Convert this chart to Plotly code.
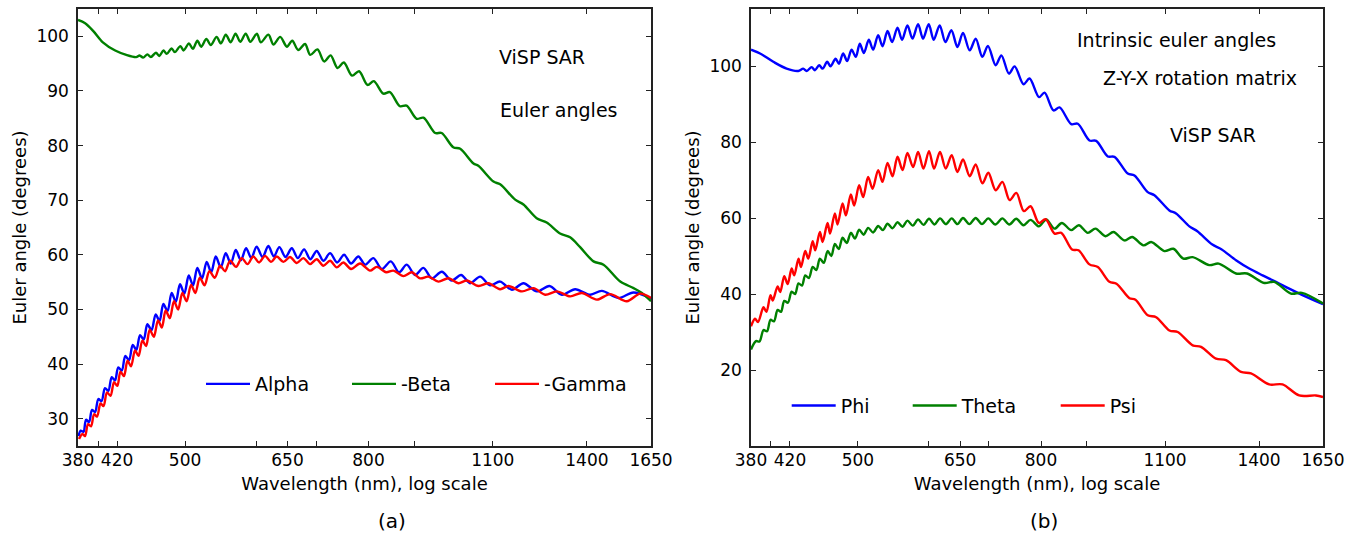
import math
import plotly.graph_objects as go

# ---------------- data ----------------
ticks_nm = [380, 420, 500, 650, 800, 1100, 1400, 1650]
minor_nm = [400, 600, 700, 900]
left_yticks = [30, 40, 50, 60, 70, 80, 90, 100]
right_yticks = [20, 40, 60, 80, 100]

alpha_wl = [380.5, 382.6, 385.4, 387.9, 390.9, 393.9, 397.0, 400.3, 403.6, 407.2, 410.7, 414.3, 417.8, 421.3, 425.1,
            429.0, 433.1, 437.2, 441.3, 445.5, 449.7, 453.9, 458.8, 463.7, 468.3, 472.9, 478.0, 483.1, 488.3, 493.5,
            499.0, 504.7, 510.3, 515.9, 522.2, 528.5, 534.6, 540.9, 547.9, 554.9, 562.1, 569.3, 576.8, 584.6, 592.5,
            600.6, 609.8, 618.9, 627.7, 636.6, 646.8, 657.2, 667.5, 678.3, 689.2, 700.6, 712.6, 725.0, 738.1, 751.5,
            765.0, 779.5, 793.0, 810.0, 827.7, 847.0, 865.2, 882.4, 901.4, 920.8, 940.9, 965.3, 990.3, 1014.3, 1038.0,
            1065.0, 1092.6, 1120.9, 1155.1, 1190.0, 1231.4, 1271.9, 1312.9, 1358.6, 1411.8, 1454.7, 1518.0, 1577.5, 1650]
alpha_deg = [26.8, 27.8, 27.6, 29.8, 29.4, 31.6, 31.2, 33.6, 33.2, 35.6, 35.1, 37.6, 37.0, 39.4, 38.8,
             41.5, 40.7, 43.5, 42.6, 45.3, 44.5, 47.3, 46.2, 49.1, 47.9, 51.0, 49.7, 53.0, 51.4, 54.6,
             52.9, 56.2, 54.4, 57.6, 55.7, 58.7, 56.8, 59.7, 57.7, 60.3, 58.4, 60.9, 59.0, 61.2, 59.4,
             61.5, 59.6, 61.6, 59.7, 61.4, 59.6, 61.2, 59.4, 61.0, 59.2, 60.7, 58.9, 60.3, 58.6, 60.0,
             58.4, 59.7, 58.2, 59.4, 57.4, 58.8, 56.8, 58.2, 56.3, 57.6, 55.7, 56.9, 55.3, 56.3, 54.8,
             56.0, 54.4, 55.1, 53.6, 54.8, 53.3, 54.3, 52.7, 53.7, 52.7, 53.4, 52.1, 53.1, 52.0]

beta_wl = [380, 387, 395, 405, 418, 430, 441, 445, 449, 454, 458, 464, 468, 473, 477, 483, 487, 494, 498, 505,
           510, 516, 521, 528, 534, 542, 548, 555, 562, 569, 576, 584, 591, 601, 607, 619, 627, 638, 649, 658,
           668, 680, 689, 702, 714, 726, 739, 751, 767, 781, 798, 811, 831, 845, 867, 882, 905, 921, 949, 965,
           994, 1012, 1047, 1060, 1102, 1121, 1165, 1190, 1231, 1263, 1307, 1341, 1376, 1424, 1461, 1525, 1578,
           1612, 1650]
beta_deg = [103.0, 102.4, 101.0, 98.9, 97.4, 96.6, 96.2, 96.5, 96.1, 96.7, 96.2, 97.0, 96.4, 97.4, 96.8, 97.8,
            97.1, 98.2, 97.4, 98.7, 97.7, 99.2, 98.1, 99.5, 98.4, 99.9, 98.7, 100.3, 98.9, 100.5, 99.0, 100.5,
            99.0, 100.5, 98.9, 100.3, 98.5, 99.9, 98.1, 99.2, 97.5, 98.6, 96.6, 97.6, 95.4, 96.5, 94.2, 95.2,
            92.8, 93.6, 91.1, 91.8, 89.5, 89.8, 87.2, 87.3, 84.9, 85.1, 82.3, 82.3, 79.7, 79.4, 76.7, 76.3,
            73.4, 72.9, 70.1, 69.2, 66.7, 65.9, 63.9, 63.2, 61.4, 58.8, 58.2, 55.1, 53.9, 53.0, 51.5]

gamma_wl = [381.0, 384.4, 386.9, 389.9, 392.9, 396.0, 399.0, 402.6, 405.7, 409.3, 413.0, 416.8, 420.3, 423.7, 427.5,
            431.4, 435.3, 439.8, 443.8, 448.1, 452.4, 456.7, 461.5, 466.5, 471.1, 475.7, 480.8, 486.0, 491.2, 496.5,
            502.0, 507.7, 513.3, 519.2, 525.6, 532.1, 539.5, 546.9, 553.9, 561.1, 569.8, 578.1, 586.8, 595.5, 604.3,
            613.7, 623.2, 632.3, 643.2, 654.3, 665.6, 677.1, 688.7, 700.6, 712.6, 725.0, 737.5, 750.1, 765.0, 782.9,
            803.2, 817.1, 836.9, 852.7, 874.8, 893.8, 913.1, 932.7, 956.9, 981.8, 1007.3, 1029.1, 1060.3, 1087.8,
            1120.9, 1145.1, 1185.1, 1220.8, 1258.0, 1296.2, 1341.2, 1382.0, 1436.2, 1486.1, 1550.9, 1604.8, 1650]
gamma_deg = [26.3, 27.2, 26.8, 29.0, 28.6, 30.8, 30.4, 32.8, 32.3, 34.8, 34.2, 36.7, 36.0, 38.6, 37.8,
             40.6, 39.6, 42.5, 41.5, 44.3, 43.3, 46.3, 45.0, 48.0, 46.7, 49.8, 48.4, 51.5, 50.0, 53.0,
             51.5, 54.5, 53.0, 55.8, 54.4, 57.0, 55.8, 58.0, 57.0, 58.9, 57.8, 59.4, 58.3, 59.7, 58.6,
             59.8, 58.7, 59.7, 58.7, 59.6, 58.5, 59.4, 58.3, 59.2, 58.0, 58.9, 57.7, 58.6, 57.4, 58.4,
             57.1, 57.8, 56.8, 57.1, 56.1, 56.8, 55.7, 56.0, 55.1, 55.7, 54.8, 55.3, 54.3, 54.8,
             53.7, 54.3, 53.3, 53.9, 52.7, 53.3, 52.4, 53.0, 51.8, 52.8, 51.5, 52.9, 52.1]

phi_wl = [380, 388.9, 402.4, 416.4, 429.0, 434.5, 438.4, 444.0, 447.8, 452.7, 456.7, 462.1, 466.1, 472.1, 476.2,
          481.4, 486.4, 491.9, 497.3, 502.4, 507.7, 514.2, 519.9, 526.7, 532.6, 539.5, 545.9, 553.5, 560.0, 567.8,
          575.2, 583.5, 591.0, 599.7, 607.4, 616.8, 625.9, 635.6, 645.5, 654.8, 666.2, 676.5, 688.2, 698.1, 712.1,
          722.6, 736.8, 747.6, 765.0, 776.9, 796.0, 807.3, 826.2, 839.0, 864.6, 879.3, 906.0, 921.8, 949.6, 966.0,
          999.5, 1016.9, 1052.2, 1070.4, 1112.3, 1131.6, 1170.9, 1195.1, 1242.0, 1271.0, 1319.7, 1365.5, 1412.9,
          1462.2, 1513.0, 1565.4, 1650]
phi_deg = [104.3, 103.3, 101.1, 99.3, 98.7, 99.3, 98.7, 99.7, 98.9, 100.2, 99.3, 101.1, 99.9, 101.9, 100.6,
           103.3, 101.3, 104.3, 102.4, 105.9, 103.4, 106.9, 104.3, 108.1, 105.2, 109.2, 106.3, 110.1, 106.9, 110.7,
           107.2, 111.0, 107.2, 111.0, 106.9, 110.7, 106.3, 109.4, 105.0, 108.7, 104.1, 107.2, 102.4, 105.3, 100.2,
           102.8, 98.0, 99.9, 95.2, 96.7, 91.8, 93.0, 88.3, 89.1, 84.7, 84.8, 80.4, 80.3, 76.2, 76.1,
           71.7, 71.2, 66.8, 66.0, 62.0, 61.2, 57.8, 56.5, 53.0, 51.8, 48.9, 46.7, 44.9, 43.2, 41.4, 39.7, 37.3]

theta_wl = [380, 384.9, 388.4, 392.4, 396.0, 399.5, 403.1, 406.9, 410.4, 413.9, 417.8, 421.8, 425.5, 429.3, 433.1,
            436.8, 440.9, 445.2, 449.4, 453.5, 458.1, 462.6, 467.0, 471.3, 476.0, 480.7, 485.9, 491.0, 496.3, 501.6,
            507.4, 513.3, 519.9, 526.7, 533.0, 539.5, 546.5, 553.5, 560.7, 567.8, 575.6, 583.5, 591.7, 600.1, 608.7,
            617.3, 626.7, 636.1, 645.5, 654.8, 665.6, 676.5, 687.5, 698.8, 711.5, 724.5, 737.5, 750.9, 764.7, 778.9,
            795.6, 810.8, 828.3, 844.0, 864.6, 881.6, 902.1, 920.1, 944.0, 963.6, 991.1, 1010.9, 1040.7, 1061.4,
            1098.2, 1123.8, 1153.0, 1180.8, 1232.4, 1262.2, 1319.7, 1357.5, 1419.1, 1455.8, 1519.5, 1563.0, 1650]
theta_deg = [25.4, 27.6, 27.5, 30.5, 30.2, 33.2, 32.8, 35.8, 35.3, 38.2, 37.7, 40.6, 40.0, 42.8, 42.2,
             44.9, 44.2, 47.1, 46.3, 49.3, 48.2, 51.3, 50.0, 53.2, 51.8, 54.8, 53.4, 56.1, 54.6, 56.9,
             55.6, 57.4, 56.2, 57.9, 56.8, 58.5, 57.3, 58.9, 57.7, 59.3, 58.0, 59.6, 58.2, 59.8, 58.3,
             59.9, 58.4, 59.9, 58.4, 60.0, 58.4, 60.0, 58.4, 59.9, 58.3, 59.9, 58.3, 59.8, 58.1, 59.5,
             57.8, 59.6, 57.2, 58.7, 56.8, 58.1, 56.1, 57.2, 55.2, 56.3, 54.1, 55.0, 52.8, 53.7,
             51.3, 51.9, 49.3, 49.7, 47.6, 48.0, 45.4, 45.4, 42.9, 43.2, 40.1, 40.3, 37.5]

psi_wl = [380, 383.9, 386.9, 392.4, 395.4, 399.5, 401.8, 406.9, 409.6, 413.9, 417.5, 421.8, 424.6, 429.3, 432.0,
          436.8, 440.2, 445.2, 448.1, 453.5, 456.7, 462.5, 465.5, 471.3, 474.5, 480.7, 484.8, 491.0, 495.2, 501.6,
          506.8, 513.3, 519.2, 526.7, 532.6, 539.5, 546.5, 553.5, 560.7, 567.8, 576.1, 583.5, 591.6, 600.1, 607.9,
          617.3, 626.4, 636.1, 645.5, 654.8, 666.2, 676.5, 688.2, 698.8, 712.1, 724.5, 738.1, 750.9, 765.6, 778.9,
          795.6, 809.4, 828.3, 842.7, 866.4, 880.9, 906.0, 925.6, 953.7, 971.0, 1003.9, 1019.5, 1052.2, 1075.1,
          1112.3, 1136.3, 1180.8, 1206.5, 1253.8, 1286.3, 1336.8, 1371.5, 1437.3, 1487.2, 1552.1, 1620.1, 1650]
psi_deg = [31.5, 33.5, 32.6, 36.5, 35.3, 39.7, 38.3, 42.0, 40.5, 44.7, 42.6, 46.7, 44.9, 49.3, 47.1,
           51.3, 49.3, 53.9, 51.5, 56.3, 53.7, 58.7, 55.9, 61.2, 58.3, 63.8, 60.7, 66.2, 63.3, 68.6,
           65.5, 70.8, 67.7, 72.6, 69.5, 74.5, 71.0, 76.1, 72.6, 77.1, 73.4, 77.4, 73.0, 77.6, 73.0,
           77.4, 73.0, 76.5, 72.1, 75.4, 71.0, 74.1, 69.1, 71.9, 67.3, 69.5, 64.7, 66.6, 61.8, 63.1,
           58.7, 59.7, 55.9, 56.1, 51.7, 51.5, 47.8, 47.1, 43.2, 42.7, 38.9, 38.5, 34.4, 33.9,
           30.4, 30.0, 26.5, 26.1, 23.0, 22.6, 19.5, 19.1, 16.2, 16.2, 13.3, 13.3, 12.9]

# ---------------- layout geometry ----------------
W, H = 1358, 537
ML, MR, MT, MB = 78, 35, 9, 91
PW, PH = W - ML - MR, H - MT - MB
FONT = "DejaVu Sans"


def px_x(px):
    return (px - ML) / PW


def px_y(py):
    return (H - MB - py) / PH


BLUE, GREEN, RED = "#0000ff", "#008000", "#ff0000"

fig = go.Figure()


def add(x, y, name, color, xa, ya, leg, lw):
    fig.add_trace(go.Scatter(
        x=x, y=y, name=name, mode="lines",
        line=dict(color=color, width=2.4, shape="spline", smoothing=0.9),
        xaxis=xa, yaxis=ya, legend=leg, legendwidth=lw, hoverinfo="x+y+name"))


add(alpha_wl, alpha_deg, "Alpha", BLUE, "x", "y", "legend", 87)
add(beta_wl, beta_deg, "-Beta", GREEN, "x", "y", "legend", 84)
add(gamma_wl, gamma_deg, "-Gamma", RED, "x", "y", "legend", 100)
add(phi_wl, phi_deg, "Phi", BLUE, "x2", "y2", "legend2", 62)
add(theta_wl, theta_deg, "Theta", GREEN, "x2", "y2", "legend2", 89)
add(psi_wl, psi_deg, "Psi", RED, "x2", "y2", "legend2", 60)

tickfont = dict(family=FONT, size=17, color="black")
titlefont = dict(family=FONT, size=18, color="black")
AX_COLOR = "#222222"


def xaxis(domain, anchor):
    return dict(
        domain=domain, anchor=anchor, type="log",
        range=[math.log10(380), math.log10(1650)],
        tickmode="array", tickvals=ticks_nm, ticktext=[str(t) for t in ticks_nm],
        ticks="inside", ticklen=5, tickwidth=1.2, tickcolor=AX_COLOR,
        minor=dict(tickmode="array", tickvals=minor_nm, ticks="inside", ticklen=5,
                   tickwidth=1.2, tickcolor=AX_COLOR, showgrid=False),
        showline=True, linecolor=AX_COLOR, linewidth=1.5, mirror="allticks",
        showgrid=False, zeroline=False, tickfont=tickfont, ticklabelstandoff=-2,
        title=dict(text="Wavelength (nm), log scale", font=titlefont, standoff=8),
    )


def yaxis(rng, tickvals, anchor):
    return dict(
        domain=[0, 1], anchor=anchor, range=rng, tickmode="array", tickvals=tickvals,
        ticktext=[str(v) for v in tickvals],
        ticks="inside", ticklen=5, tickwidth=1.2, tickcolor=AX_COLOR,
        showline=True, linecolor=AX_COLOR, linewidth=1.5, mirror="allticks",
        showgrid=False, zeroline=False, tickfont=tickfont, ticklabelstandoff=4,
        title=dict(text="Euler angle (degrees)", font=titlefont, standoff=5),
    )


ann_font = dict(family=FONT, size=19, color="black")
annotations = []
for txt, cx, cy in [("ViSP SAR", 541.7, 56.7), ("Euler angles", 558.3, 110),
                    ("Intrinsic euler angles", 1176.3, 40), ("Z-Y-X rotation matrix", 1200, 78),
                    ("ViSP SAR", 1213.3, 135)]:
    annotations.append(dict(text=txt, x=px_x(cx), y=px_y(cy), xref="paper", yref="paper",
                            xanchor="center", yanchor="middle", showarrow=False, font=ann_font))
for txt, cx in [("(a)", 392), ("(b)", 1044)]:
    annotations.append(dict(text=txt, x=px_x(cx), y=px_y(521), xref="paper", yref="paper",
                            xanchor="center", yanchor="middle", showarrow=False,
                            font=dict(family=FONT, size=20, color="black")))

leg_font = dict(family=FONT, size=19, color="black")
fig.update_layout(
    width=W, height=H, margin=dict(l=ML, r=MR, t=MT, b=MB, autoexpand=False),
    paper_bgcolor="white", plot_bgcolor="white",
    xaxis=xaxis([0, px_x(651)], "y"),
    yaxis=yaxis([25, 105], left_yticks, "x"),
    xaxis2=xaxis([px_x(751), 1], "y2"),
    yaxis2=yaxis([0, 115], right_yticks, "x2"),
    legend=dict(orientation="h", x=px_x(201), y=px_y(384), xanchor="left", yanchor="middle",
                font=leg_font, itemwidth=44, bgcolor="rgba(0,0,0,0)", borderwidth=0,
                itemclick=False, itemdoubleclick=False),
    legend2=dict(orientation="h", x=px_x(786.7), y=px_y(405.7), xanchor="left", yanchor="middle",
                 font=leg_font, itemwidth=44, bgcolor="rgba(0,0,0,0)", borderwidth=0,
                 itemclick=False, itemdoubleclick=False),
    annotations=annotations,
    showlegend=True,
)

fig.write_html("out.html")
